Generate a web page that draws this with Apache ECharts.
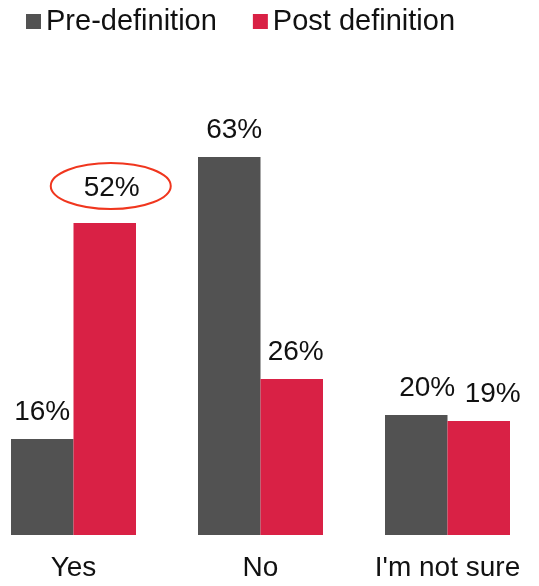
<!DOCTYPE html>
<html>
<head>
<meta charset="utf-8">
<script src="https://cdn.jsdelivr.net/npm/echarts@6/dist/echarts.min.js"></script>
<style>
  html, body { margin: 0; padding: 0; background: #fff; overflow: hidden; }
  /* the plot is cropped on the left in the original: shift the canvas */
  #chart { width: 561px; height: 586px; margin-left: -20px; }
</style>
</head>
<body>
<div id="chart"></div>
<script>
var categories = ['Yes', 'No', "I'm not sure"];
var preValues = [16, 63, 20];
var postValues = [52, 26, 19];
var seriesNames = ['Pre-definition', 'Post definition'];

var FONT = '"Liberation Sans", Arial, Helvetica, sans-serif';
var BAR_W = 62.5;
var preOffsets = [0, 5, 11];
var postOffsets = [7, 4, 14];

var echar = echarts.init(document.getElementById('chart'));

function withLabels(values, offsets, extra) {
    return values.map(function (v, i) {
        var item = { value: v, label: { offset: [offsets[i], 0] } };
        if (extra && extra[i]) item.label.distance = extra[i];
        return item;
    });
}

var labelStyle = {
    show: true,
    position: 'top',
    distance: 13,
    color: '#111',
    fontFamily: FONT,
    fontSize: 28,
    formatter: '{c}%'
};

var option = {
    animation: false,
    legend: {
        data: seriesNames,
        left: 46,
        top: 7,
        padding: 0,
        icon: 'rect',
        itemWidth: 15,
        itemHeight: 15,
        itemGap: 36,
        textStyle: { fontFamily: FONT, fontSize: 29, color: '#111' }
    },
    grid: {
        left: 0,
        right: 0,
        top: 115,
        bottom: 51
    },
    xAxis: {
        type: 'category',
        data: categories,
        axisLine: { show: false },
        axisTick: { show: false },
        axisLabel: {
            interval: 0,
            margin: 19,
            color: '#111',
            fontFamily: FONT,
            fontSize: 28
        }
    },
    yAxis: {
        type: 'value',
        min: 0,
        max: 70,
        show: false,
        splitLine: { show: false }
    },
    series: [{
        name: seriesNames[0],
        type: 'bar',
        data: withLabels(preValues, preOffsets),
        barWidth: BAR_W,
        barGap: '0%',
        itemStyle: { color: '#525252' },
        label: labelStyle
    }, {
        name: seriesNames[1],
        type: 'bar',
        data: withLabels(postValues, postOffsets, [21, 0, 0]),
        barWidth: BAR_W,
        barGap: '0%',
        itemStyle: { color: '#d92145' },
        label: labelStyle
    }]
};
echar.setOption(option);

// red ellipse around the highlighted "Yes" post-definition label
var p = echar.convertToPixel({ seriesIndex: 1 }, [0, postValues[0]]);
echar.setOption({
    graphic: [{
        type: 'ellipse',
        shape: { cx: p[0] + BAR_W / 2 + 6, cy: p[1] - 37, rx: 60, ry: 23 },
        style: { fill: 'none', stroke: '#f0361e', lineWidth: 2 },
        z: 100
    }]
});
</script>
</body>
</html>
